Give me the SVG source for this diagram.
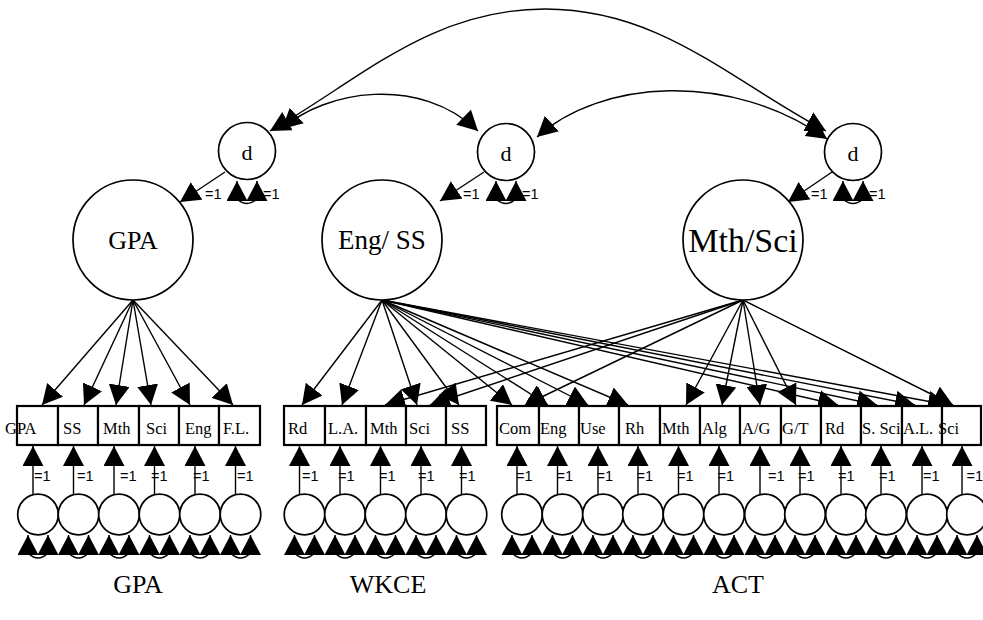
<svg xmlns="http://www.w3.org/2000/svg" width="983" height="620" viewBox="0 0 983 620">
  <style>
    .bg { fill: #ffffff; }
    .lat { fill: #ffffff; stroke: #000; stroke-width: 1.7; }
    .err { fill: #ffffff; stroke: #000; stroke-width: 1.7; }
    .box { fill: #ffffff; stroke: #000; stroke-width: 2.2; }
    .path { fill: none; stroke: #000; stroke-width: 1.4; marker-end: url(#arrow); }
    .cov { fill: none; stroke: #000; stroke-width: 1.4; marker-start: url(#arrow); marker-end: url(#arrow); }
    .obs { font-family: "Liberation Serif", "Times New Roman", serif; font-size: 16.5px; fill: #000; }
    .fix { font-family: "Liberation Sans", Arial, sans-serif; font-size: 14.5px; fill: #000; }
    .ltxt { font-family: "Liberation Serif", "Times New Roman", serif; fill: #000; text-anchor: middle; }
    .cap { font-family: "Liberation Serif", "Times New Roman", serif; font-size: 26px; fill: #000; text-anchor: middle; }
  </style>
  <defs>
    <marker id="arrow" viewBox="0 0 20 21" refX="20" refY="10.5" markerWidth="20" markerHeight="21" markerUnits="userSpaceOnUse" orient="auto-start-reverse">
      <path d="M0,0 L20,10.5 L0,21 Z" fill="#000"/>
    </marker>
  </defs>
  <rect class="bg" x="0" y="0" width="983" height="620"/>

  <!-- connectors: covariances, loadings, disturbance and error paths -->
  <g id="connectors">
    <!-- covariances among disturbances -->
    <path class="cov" d="M270,131 C360,80 430,9 545,9 C660,9 730,80 826,131"/>
    <path class="cov" d="M282,129 C325,90 420,75 478,131"/>
    <path class="cov" d="M537,137 C600,80 730,70 827,139"/>
    <!-- disturbances to factors -->
    <path class="path" d="M225,172 L180,202"/>
    <path class="path" d="M484,172 L440,201"/>
    <path class="path" d="M832,172 L788,202"/>
    <!-- disturbance variances -->
    <path class="cov" d="M237,181 L237,199 Q247,208 257,199 L257,181"/>
    <path class="cov" d="M496,181 L496,199 Q506,208 516,199 L516,181"/>
    <path class="cov" d="M843,181 L843,199 Q853,208 863,199 L863,181"/>
    <!-- GPA loadings -->
    <path class="path" d="M133,300 L42,405"/>
    <path class="path" d="M133,300 L84,405"/>
    <path class="path" d="M133,300 L116,405"/>
    <path class="path" d="M133,300 L151,405"/>
    <path class="path" d="M133,300 L190,405"/>
    <path class="path" d="M133,300 L233,405"/>
    <!-- Eng/SS loadings -->
    <path class="path" d="M382,300 L302,405"/>
    <path class="path" d="M382,300 L342,405"/>
    <path class="path" d="M382,300 L417,405"/>
    <path class="path" d="M382,300 L459,405"/>
    <path class="path" d="M382,300 L512,405"/>
    <path class="path" d="M382,300 L548,405"/>
    <path class="path" d="M382,300 L588,405"/>
    <path class="path" d="M382,300 L628,405"/>
    <path class="path" d="M382,300 L838,405"/>
    <path class="path" d="M382,300 L877,405"/>
    <path class="path" d="M382,300 L915,405"/>
    <path class="path" d="M382,300 L948,405"/>
    <!-- Mth/Sci loadings -->
    <path class="path" d="M743,300 L385,405"/>
    <path class="path" d="M743,300 L430,405"/>
    <path class="path" d="M743,300 L525,405"/>
    <path class="path" d="M743,300 L686,405"/>
    <path class="path" d="M743,300 L722,405"/>
    <path class="path" d="M743,300 L760,405"/>
    <path class="path" d="M743,300 L796,405"/>
    <path class="path" d="M743,300 L953,405"/>
    <!-- error paths, GPA block -->
    <path class="path" d="M33,495 L33,446"/>
    <path class="path" d="M73.5,495 L73.5,446"/>
    <path class="path" d="M114,495 L114,446"/>
    <path class="path" d="M154.5,495 L154.5,446"/>
    <path class="path" d="M195,495 L195,446"/>
    <path class="path" d="M235.5,495 L235.5,446"/>
    <!-- error paths, WKCE block -->
    <path class="path" d="M299.5,495 L299.5,446"/>
    <path class="path" d="M340,495 L340,446"/>
    <path class="path" d="M380.5,495 L380.5,446"/>
    <path class="path" d="M421,495 L421,446"/>
    <path class="path" d="M461.5,495 L461.5,446"/>
    <!-- error paths, ACT block -->
    <path class="path" d="M517,495 L517,446"/>
    <path class="path" d="M557.5,495 L557.5,446"/>
    <path class="path" d="M598,495 L598,446"/>
    <path class="path" d="M638,495 L638,446"/>
    <path class="path" d="M678.5,495 L678.5,446"/>
    <path class="path" d="M719,495 L719,446"/>
    <path class="path" d="M760,495 L760,446"/>
    <path class="path" d="M800,495 L800,446"/>
    <path class="path" d="M841,495 L841,446"/>
    <path class="path" d="M881,495 L881,446"/>
    <path class="path" d="M922,495 L922,446"/>
    <path class="path" d="M962,495 L962,446"/>
    <!-- error variances -->
    <g id="error-variances">
      <path class="cov" d="M28,535 L28,553 Q38,563 48,553 L48,535"/>
      <path class="cov" d="M68.5,535 L68.5,553 Q78.5,563 88.5,553 L88.5,535"/>
      <path class="cov" d="M109,535 L109,553 Q119,563 129,553 L129,535"/>
      <path class="cov" d="M149.5,535 L149.5,553 Q159.5,563 169.5,553 L169.5,535"/>
      <path class="cov" d="M190,535 L190,553 Q200,563 210,553 L210,535"/>
      <path class="cov" d="M230.5,535 L230.5,553 Q240.5,563 250.5,553 L250.5,535"/>
      <path class="cov" d="M294.5,535 L294.5,553 Q304.5,563 314.5,553 L314.5,535"/>
      <path class="cov" d="M335,535 L335,553 Q345,563 355,553 L355,535"/>
      <path class="cov" d="M375.5,535 L375.5,553 Q385.5,563 395.5,553 L395.5,535"/>
      <path class="cov" d="M416,535 L416,553 Q426,563 436,553 L436,535"/>
      <path class="cov" d="M456.5,535 L456.5,553 Q466.5,563 476.5,553 L476.5,535"/>
      <path class="cov" d="M512,535 L512,553 Q522,563 532,553 L532,535"/>
      <path class="cov" d="M552.5,535 L552.5,553 Q562.5,563 572.5,553 L572.5,535"/>
      <path class="cov" d="M593,535 L593,553 Q603,563 613,553 L613,535"/>
      <path class="cov" d="M633,535 L633,553 Q643,563 653,553 L653,535"/>
      <path class="cov" d="M673.5,535 L673.5,553 Q683.5,563 693.5,553 L693.5,535"/>
      <path class="cov" d="M714,535 L714,553 Q724,563 734,553 L734,535"/>
      <path class="cov" d="M755,535 L755,553 Q765,563 775,553 L775,535"/>
      <path class="cov" d="M795,535 L795,553 Q805,563 815,553 L815,535"/>
      <path class="cov" d="M836,535 L836,553 Q846,563 856,553 L856,535"/>
      <path class="cov" d="M876,535 L876,553 Q886,563 896,553 L896,535"/>
      <path class="cov" d="M917,535 L917,553 Q927,563 937,553 L937,535"/>
      <path class="cov" d="M957,535 L957,553 Q967,563 977,553 L977,535"/>
    </g>
  </g>

  <!-- disturbances -->
  <g id="d-gpa"><circle class="lat" cx="247" cy="151" r="28.5"/><text class="ltxt" x="247" y="160" font-size="22">d</text>
    <text class="fix" x="205" y="199">=1</text><text class="fix" x="263" y="199">=1</text></g>
  <g id="d-engss"><circle class="lat" cx="506" cy="152" r="28.5"/><text class="ltxt" x="506" y="161" font-size="22">d</text>
    <text class="fix" x="463" y="199">=1</text><text class="fix" x="522" y="199">=1</text></g>
  <g id="d-mthsci"><circle class="lat" cx="853" cy="152" r="28.5"/><text class="ltxt" x="853" y="161" font-size="22">d</text>
    <text class="fix" x="811" y="199">=1</text><text class="fix" x="869" y="199">=1</text></g>

  <!-- factors -->
  <g id="f-gpa"><circle class="lat" cx="133" cy="240" r="60"/><text class="ltxt" x="133" y="249" font-size="26">GPA</text></g>
  <g id="f-engss"><circle class="lat" cx="382" cy="240" r="60"/><text class="ltxt" x="382" y="249" font-size="27">Eng/ SS</text></g>
  <g id="f-mthsci"><circle class="lat" cx="743" cy="240" r="60"/><text class="ltxt" x="743" y="252" font-size="34">Mth/Sci</text></g>

  <!-- GPA indicators -->
  <g id="gpa-gpa"><rect class="box" x="17" y="406" width="41" height="39"/><text class="obs" x="5" y="434">GPA</text></g>
  <g id="gpa-ss"><rect class="box" x="58" y="406" width="40" height="39"/><text class="obs" x="63" y="434">SS</text></g>
  <g id="gpa-mth"><rect class="box" x="98" y="406" width="41" height="39"/><text class="obs" x="103" y="434">Mth</text></g>
  <g id="gpa-sci"><rect class="box" x="139" y="406" width="40" height="39"/><text class="obs" x="146" y="434">Sci</text></g>
  <g id="gpa-eng"><rect class="box" x="179" y="406" width="40" height="39"/><text class="obs" x="185" y="434">Eng</text></g>
  <g id="gpa-fl"><rect class="box" x="219" y="406" width="41" height="39"/><text class="obs" x="223" y="434">F.L.</text></g>

  <!-- WKCE indicators -->
  <g id="wkce-rd"><rect class="box" x="284" y="406" width="41" height="39"/><text class="obs" x="288" y="434">Rd</text></g>
  <g id="wkce-la"><rect class="box" x="325" y="406" width="41" height="39"/><text class="obs" x="328" y="434">L.A.</text></g>
  <g id="wkce-mth"><rect class="box" x="366" y="406" width="40" height="39"/><text class="obs" x="370" y="434">Mth</text></g>
  <g id="wkce-sci"><rect class="box" x="406" y="406" width="40" height="39"/><text class="obs" x="409" y="434">Sci</text></g>
  <g id="wkce-ss"><rect class="box" x="446" y="406" width="40" height="39"/><text class="obs" x="451" y="434">SS</text></g>

  <!-- ACT indicators -->
  <g id="act-com"><rect class="box" x="497" y="406" width="42" height="39"/><text class="obs" x="499" y="434">Com</text></g>
  <g id="act-eng"><rect class="box" x="539" y="406" width="40" height="39"/><text class="obs" x="540" y="434">Eng</text></g>
  <g id="act-use"><rect class="box" x="579" y="406" width="40" height="39"/><text class="obs" x="580" y="434">Use</text></g>
  <g id="act-rh"><rect class="box" x="619" y="406" width="41" height="39"/><text class="obs" x="625" y="434">Rh</text></g>
  <g id="act-mth"><rect class="box" x="660" y="406" width="40" height="39"/><text class="obs" x="662" y="434">Mth</text></g>
  <g id="act-alg"><rect class="box" x="700" y="406" width="40" height="39"/><text class="obs" x="702" y="434">Alg</text></g>
  <g id="act-ag"><rect class="box" x="740" y="406" width="41" height="39"/><text class="obs" x="742" y="434">A/G</text></g>
  <g id="act-gt"><rect class="box" x="781" y="406" width="40" height="39"/><text class="obs" x="782" y="434">G/T</text></g>
  <g id="act-rd"><rect class="box" x="821" y="406" width="40" height="39"/><text class="obs" x="825" y="434">Rd</text></g>
  <g id="act-ssci"><rect class="box" x="861" y="406" width="41" height="39"/><text class="obs" x="862" y="434">S. Sci</text></g>
  <g id="act-al"><rect class="box" x="902" y="406" width="40" height="39"/><text class="obs" x="903" y="434">A.L.</text></g>
  <g id="act-sci"><rect class="box" x="942" y="406" width="39" height="39"/><text class="obs" x="938" y="434">Sci</text></g>

  <!-- residuals -->
  <g id="errors">
    <g id="e1"><circle class="err" cx="38" cy="514.5" r="20.3"/><text class="fix" x="34" y="481">=1</text></g>
    <g id="e2"><circle class="err" cx="78.5" cy="514.5" r="20.3"/><text class="fix" x="77" y="481">=1</text></g>
    <g id="e3"><circle class="err" cx="119" cy="514.5" r="20.3"/><text class="fix" x="120" y="481">=1</text></g>
    <g id="e4"><circle class="err" cx="159.5" cy="514.5" r="20.3"/><text class="fix" x="151" y="481">=1</text></g>
    <g id="e5"><circle class="err" cx="200" cy="514.5" r="20.3"/><text class="fix" x="193" y="481">=1</text></g>
    <g id="e6"><circle class="err" cx="240.5" cy="514.5" r="20.3"/><text class="fix" x="237" y="481">=1</text></g>
    <g id="e7"><circle class="err" cx="304.5" cy="514.5" r="20.3"/><text class="fix" x="302" y="481">=1</text></g>
    <g id="e8"><circle class="err" cx="345" cy="514.5" r="20.3"/><text class="fix" x="338" y="481">=1</text></g>
    <g id="e9"><circle class="err" cx="385.5" cy="514.5" r="20.3"/><text class="fix" x="379" y="481">=1</text></g>
    <g id="e10"><circle class="err" cx="426" cy="514.5" r="20.3"/><text class="fix" x="418" y="481">=1</text></g>
    <g id="e11"><circle class="err" cx="466.5" cy="514.5" r="20.3"/><text class="fix" x="459" y="481">=1</text></g>
    <g id="e12"><circle class="err" cx="522" cy="514.5" r="20.3"/><text class="fix" x="516" y="481">=1</text></g>
    <g id="e13"><circle class="err" cx="562.5" cy="514.5" r="20.3"/><text class="fix" x="556.5" y="481">=1</text></g>
    <g id="e14"><circle class="err" cx="603" cy="514.5" r="20.3"/><text class="fix" x="596.5" y="481">=1</text></g>
    <g id="e15"><circle class="err" cx="643" cy="514.5" r="20.3"/><text class="fix" x="636.5" y="481">=1</text></g>
    <g id="e16"><circle class="err" cx="683.5" cy="514.5" r="20.3"/><text class="fix" x="677" y="481">=1</text></g>
    <g id="e17"><circle class="err" cx="724" cy="514.5" r="20.3"/><text class="fix" x="717.5" y="481">=1</text></g>
    <g id="e18"><circle class="err" cx="765" cy="514.5" r="20.3"/><text class="fix" x="768" y="481">=1</text></g>
    <g id="e19"><circle class="err" cx="805" cy="514.5" r="20.3"/><text class="fix" x="798" y="481">=1</text></g>
    <g id="e20"><circle class="err" cx="846" cy="514.5" r="20.3"/><text class="fix" x="838" y="481">=1</text></g>
    <g id="e21"><circle class="err" cx="886" cy="514.5" r="20.3"/><text class="fix" x="879" y="481">=1</text></g>
    <g id="e22"><circle class="err" cx="927" cy="514.5" r="20.3"/><text class="fix" x="923" y="481">=1</text></g>
    <g id="e23"><circle class="err" cx="967" cy="514.5" r="20.3"/><text class="fix" x="966.5" y="481">=1</text></g>
  </g>

  <!-- block captions -->
  <g id="captions">
    <text class="cap" x="138" y="593">GPA</text>
    <text class="cap" x="388" y="593">WKCE</text>
    <text class="cap" x="738" y="593">ACT</text>
  </g>
</svg>
